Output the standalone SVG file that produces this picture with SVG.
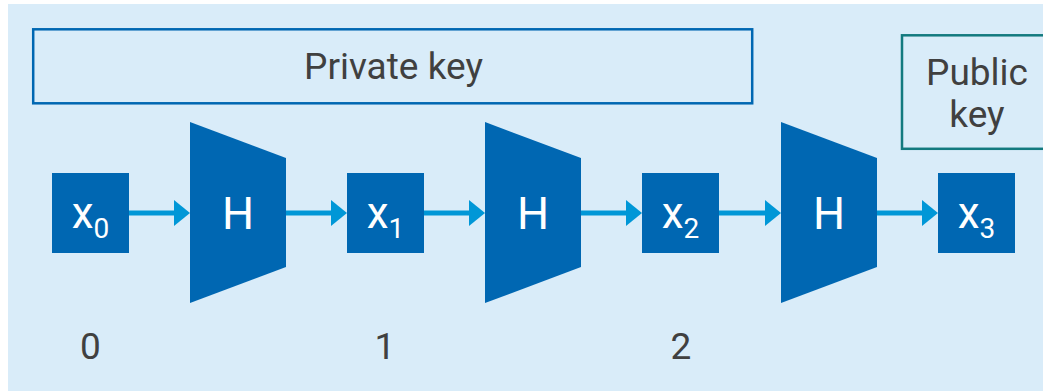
<svg xmlns="http://www.w3.org/2000/svg" width="1043" height="391" viewBox="0 0 1043 391">
  <defs>
    <marker id="head" markerUnits="userSpaceOnUse" markerWidth="16" markerHeight="26" refX="0" refY="13" orient="auto">
      <path d="M0,0 L16,13 L0,26 Z" fill="#0097D7"/>
    </marker>
    <style>
      .label { font-family: Roboto, "Liberation Sans", sans-serif; fill: #404040; font-size: 37px; text-anchor: middle; }
      .block { fill: #0067B2; }
      .hash { fill: #0067B2; }
      .inner { font-family: Roboto, "Liberation Sans", sans-serif; fill: #FFFFFF; text-anchor: middle; }
      .link { stroke: #0097D7; stroke-width: 5; fill: none; marker-end: url(#head); }
    </style>
  </defs>

  <!-- backdrop -->
  <rect x="8" y="4" width="1035" height="387" fill="#D9ECF9"/>

  <!-- key ranges -->
  <g id="private-key">
    <rect x="33.2" y="29.3" width="719" height="74" fill="none" stroke="#0067B2" stroke-width="2.5"/>
    <text class="label" x="393.5" y="79">Private key</text>
  </g>
  <g id="public-key">
    <rect x="902" y="35.3" width="200" height="113.5" fill="none" stroke="#137A7F" stroke-width="2.5"/>
    <text class="label" x="977" y="85" font-size="38">Public</text>
    <text class="label" x="977" y="127" font-size="38">key</text>
  </g>

  <!-- connectors -->
  <g id="connectors">
    <line class="link" x1="129" y1="213" x2="174" y2="213"/>
    <line class="link" x1="286" y1="213" x2="331" y2="213"/>
    <line class="link" x1="424" y1="213" x2="469" y2="213"/>
    <line class="link" x1="581" y1="213" x2="626" y2="213"/>
    <line class="link" x1="719" y1="213" x2="765" y2="213"/>
    <line class="link" x1="877" y1="213" x2="922" y2="213"/>
  </g>

  <!-- chain values -->
  <g id="x0">
    <rect class="block" x="52" y="173" width="77" height="80"/>
    <text class="inner" x="90.5" y="228" font-size="44">x<tspan font-size="28" dy="10">0</tspan></text>
  </g>
  <g id="x1">
    <rect class="block" x="347" y="173" width="77" height="80"/>
    <text class="inner" x="385.5" y="228" font-size="44">x<tspan font-size="28" dy="10">1</tspan></text>
  </g>
  <g id="x2">
    <rect class="block" x="642" y="173" width="77" height="80"/>
    <text class="inner" x="680.5" y="228" font-size="44">x<tspan font-size="28" dy="10">2</tspan></text>
  </g>
  <g id="x3">
    <rect class="block" x="938" y="173" width="77" height="80"/>
    <text class="inner" x="976.5" y="228" font-size="44">x<tspan font-size="28" dy="10">3</tspan></text>
  </g>

  <!-- hash stages -->
  <g id="h1">
    <polygon class="hash" points="190,122 286,158 286,267 190,303"/>
    <text class="inner" x="238" y="229" font-size="45">H</text>
  </g>
  <g id="h2">
    <polygon class="hash" points="485,122 581,158 581,267 485,303"/>
    <text class="inner" x="533" y="229" font-size="45">H</text>
  </g>
  <g id="h3">
    <polygon class="hash" points="781,122 877,158 877,267 781,303"/>
    <text class="inner" x="829" y="229" font-size="45">H</text>
  </g>

  <!-- step indices -->
  <g id="steps">
    <text class="label" x="90.5" y="359">0</text>
    <text class="label" x="385" y="359">1</text>
    <text class="label" x="681" y="359">2</text>
  </g>
</svg>
